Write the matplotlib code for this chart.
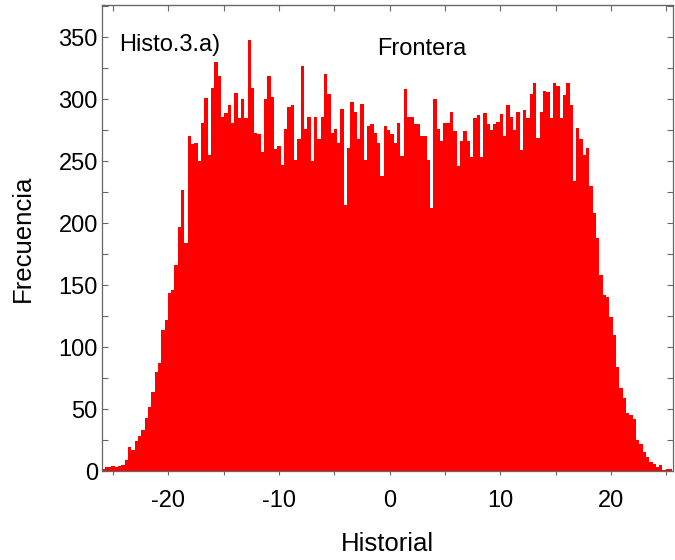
import numpy as np
import matplotlib
matplotlib.use("Agg")
import matplotlib.pyplot as plt
from matplotlib.ticker import MultipleLocator

plt.rcParams['font.family'] = ['Liberation Sans', 'DejaVu Sans']
plt.rcParams['axes.unicode_minus'] = False

# histogram: bin width 0.3, first bin centred at -25.9
bin_width = 0.3
first_center = -25.9
counts = [
    2, 3, 3, 4, 3, 4, 5, 9, 19, 17,
    24, 28, 33, 43, 52, 64, 80, 87, 114, 122,
    144, 146, 166, 197, 227, 184, 270, 264, 265, 250,
    281, 301, 255, 309, 330, 319, 286, 289, 295, 281,
    305, 285, 300, 285, 348, 309, 273, 272, 257, 300,
    319, 302, 260, 262, 247, 276, 294, 295, 251, 268,
    327, 276, 286, 250, 286, 268, 286, 320, 304, 273,
    276, 265, 292, 215, 261, 298, 290, 268, 296, 251,
    278, 280, 273, 265, 238, 278, 275, 272, 265, 281,
    254, 308, 286, 286, 280, 280, 270, 270, 251, 212,
    300, 276, 266, 281, 281, 290, 274, 246, 266, 274,
    266, 253, 285, 287, 253, 289, 280, 275, 280, 282,
    288, 270, 295, 286, 275, 290, 259, 291, 285, 304,
    313, 269, 290, 307, 306, 285, 313, 311, 285, 303,
    313, 295, 234, 277, 268, 255, 261, 230, 208, 188,
    158, 142, 140, 124, 110, 84, 67, 59, 47, 45,
    42, 25, 22, 15, 11, 7, 6, 3, 5, 1,
    2, 2,
]
centers = first_center + bin_width * np.arange(len(counts))

x_label = "Historial"
y_label = "Frecuencia"
panel_tag = "Histo.3.a)"
title_text = "Frontera"

fig = plt.figure(figsize=(6.75, 5.6), dpi=100)
ax = fig.add_axes([102 / 675, 89 / 560, 571 / 675, 466 / 560])

ax.bar(centers, counts, width=bin_width, color='#ff0000', linewidth=0)

ax.set_xlim(-26, 25.6)
ax.set_ylim(0, 376)
ax.xaxis.set_major_locator(MultipleLocator(10))
ax.xaxis.set_minor_locator(MultipleLocator(5))
ax.yaxis.set_major_locator(MultipleLocator(50))
ax.yaxis.set_minor_locator(MultipleLocator(25))

spine_col = '#666666'
for s in ax.spines.values():
    s.set_color(spine_col)
    s.set_linewidth(0.9)

ax.tick_params(axis='y', which='both', direction='in', left=True, right=True,
               length=4, width=0.8, color=spine_col, labelsize=17, pad=3)
ax.tick_params(axis='x', which='both', direction='out', bottom=True, top=False,
               length=3, width=0.8, color=spine_col, labelsize=17, pad=11)
# inward ticks on the top spine
top = ax.secondary_xaxis('top')
top.xaxis.set_major_locator(MultipleLocator(5))
top.tick_params(direction='in', length=4, width=0.8, color=spine_col, labeltop=False)
top.spines['top'].set_color(spine_col)

ax.set_xlabel(x_label, fontsize=18.5, labelpad=14)
ax.set_ylabel(y_label, fontsize=18.5, labelpad=17)

ax.text(0.03, 0.915, panel_tag, transform=ax.transAxes, fontsize=17,
        va='center', ha='left')
ax.text(0.56, 0.905, title_text, transform=ax.transAxes, fontsize=17,
        va='center', ha='center')

fig.savefig("out.png", dpi=100, facecolor='white')
